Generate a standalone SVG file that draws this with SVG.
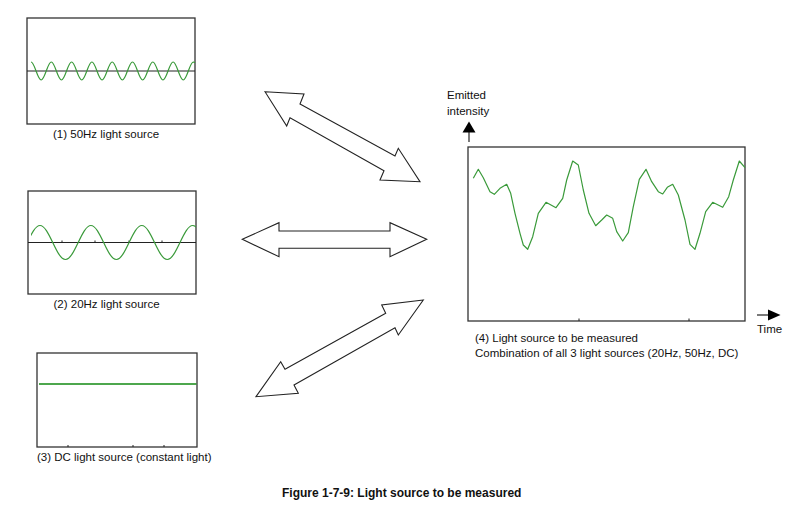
<svg xmlns="http://www.w3.org/2000/svg" width="796" height="515" viewBox="0 0 796 515">
<style>
.frame{fill:none;stroke:#333;stroke-width:1.3}
.axis{stroke:#222;stroke-width:1.2;fill:none}
.tick{stroke:#222;stroke-width:1}
.wave{fill:none;stroke:#3a9a3a;stroke-width:1.2;stroke-linejoin:round}
.dc{fill:none;stroke:#138a13;stroke-width:1.4}
.lbl{font-family:"Liberation Sans",Arial,sans-serif;font-size:11.5px;fill:#111}
.cap{font-family:"Liberation Sans",Arial,sans-serif;font-size:12px;font-weight:bold;fill:#111}
.dbl{fill:#fff;stroke:#222;stroke-width:1.1;stroke-linejoin:miter}
.head{fill:#000}
</style>
<defs>
<clipPath id="clip20"><rect x="31" y="195" width="165" height="96"/></clipPath>
</defs>
<rect width="796" height="515" fill="#fff"/>

<g id="node-50hz">
<rect class="frame" x="27" y="18" width="168" height="106"/>
<line class="axis" x1="27" y1="71" x2="195" y2="71"/>
<path class="wave" d="M31,62 c3.69,0 6.46,18 10.15,18 s6.46,-18 10.15,-18 s6.46,18 10.15,18 s6.46,-18 10.15,-18 s6.46,18 10.15,18 s6.46,-18 10.15,-18 s6.46,18 10.15,18 s6.46,-18 10.15,-18 s6.46,18 10.15,18 s6.46,-18 10.15,-18 s6.46,18 10.15,18 s6.46,-18 10.15,-18 s6.46,18 10.15,18 s6.46,-18 10.15,-18 s6.46,18 10.15,18 s6.46,-18 10.15,-18 l1.6,0.6"/>
<text class="lbl" x="53" y="138">(1) 50Hz light source</text>
</g>

<g id="node-20hz">
<rect class="frame" x="28" y="191" width="168" height="103"/>
<line class="axis" x1="28" y1="242.5" x2="196" y2="242.5"/>
<line class="tick" x1="62" y1="240.5" x2="62" y2="242.5"/>
<line class="tick" x1="95" y1="240.5" x2="95" y2="242.5"/>
<line class="tick" x1="129" y1="240.5" x2="129" y2="242.5"/>
<line class="tick" x1="162" y1="240.5" x2="162" y2="242.5"/>
<path class="wave" clip-path="url(#clip20)" d="M14.55,259.5 c9.25,0 16.2,-34 25.45,-34 s16.2,34 25.45,34 s16.2,-34 25.45,-34 s16.2,34 25.45,34 s16.2,-34 25.45,-34 s16.2,34 25.45,34 s16.2,-34 25.45,-34 s16.2,34 25.45,34"/>
<text class="lbl" x="53.5" y="308">(2) 20Hz light source</text>
</g>

<g id="node-dc">
<rect class="frame" x="37" y="353" width="160" height="94"/>
<line class="dc" x1="39" y1="384" x2="196.5" y2="384"/>
<line class="tick" x1="68" y1="445" x2="68" y2="447"/>
<line class="tick" x1="133" y1="445" x2="133" y2="447"/>
<line class="tick" x1="164" y1="445" x2="164" y2="447"/>
<text class="lbl" x="37" y="460.5">(3) DC light source (constant light)</text>
</g>

<g id="node-combined">
<rect class="frame" x="468" y="147" width="277" height="174"/>
<line class="tick" x1="579" y1="318.5" x2="579" y2="321"/>
<line class="tick" x1="689" y1="318.5" x2="689" y2="321"/>
<polyline class="wave" points="473.3,178.3 478.3,169.3 483.3,177.7 490,191.7 494.3,194.3 500,188.3 506.7,184.3 510.7,193.3 515,213.3 520,233.3 523.3,245 527.7,249.3 532.7,236.7 538.3,213.3 546,202.3 556,207.7 562.7,198.3 566.7,180 572.7,161 578.3,165 583.3,190 589,213.3 595.7,225.7 601.7,220 606.7,215 612.7,218.3 616.7,231.7 622.7,241 628.3,232.7 633.3,206.7 639.3,179.3 646,169.3 651.7,181.7 658.3,191.7 662.7,194 667.3,187.3 672.7,184.3 678.3,195 685,220 690,244.3 695,249.3 700,233.3 705.7,211.7 712.7,202.3 722.7,207.3 728.7,196.7 733.3,180 739.3,161 745,167.7"/>
<text class="lbl" x="447" y="99">Emitted</text>
<text class="lbl" x="447" y="115">intensity</text>
<line class="axis" x1="469" y1="131" x2="469" y2="142"/>
<polygon class="head" points="469,121.5 475.5,132.5 462.5,132.5"/>
<line class="axis" x1="757" y1="315" x2="769" y2="315"/>
<polygon class="head" points="780.5,315 768,309.5 768,320.5"/>
<text class="lbl" x="757" y="333">Time</text>
<text class="lbl" x="475" y="341.5">(4) Light source to be measured</text>
<text class="lbl" x="475" y="356.5">Combination of all 3 light sources (20Hz, 50Hz, DC)</text>
</g>

<g id="connectors">
<polygon class="dbl" points="265,91.7 304,94 300,104 395,156 398.3,148.3 420,181.7 380,180 384,170.7 290,117.7 286.7,126"/>
<polygon class="dbl" points="242.3,239.3 279,222.7 279,231 390,231 390,222.7 426.7,239.3 390,256.7 390,248.3 279,248.3 279,256.7"/>
<polygon class="dbl" points="423.3,300 381.7,305 385.7,313.3 285,369.3 280.7,361.7 256,396.7 298.3,393.3 294,385 395,327.7 398.3,335"/>
</g>

<g id="caption">
<text class="cap" x="282" y="497">Figure 1-7-9: Light source to be measured</text>
</g>
</svg>
